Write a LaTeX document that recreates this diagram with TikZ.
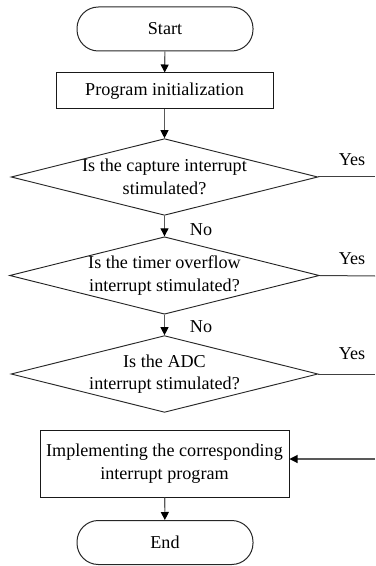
\documentclass[tikz,border=0pt]{standalone}
\usepackage{fontspec}
\setmainfont{Liberation Serif}
\usetikzlibrary{shapes.geometric,arrows.meta}
\begin{document}
\begin{tikzpicture}[x=0.75pt,y=-0.75pt,
  every node/.style={font=\fontsize{13.6pt}{17pt}\selectfont},
  term/.style={draw=black!85,line width=0.75pt,rectangle,rounded corners=16pt,minimum width=132pt,minimum height=33pt,inner sep=0pt},
  proc/.style={draw=black!90,line width=0.75pt,rectangle,inner sep=0pt,align=center},
  dec/.style={draw=black!85,line width=0.7pt,diamond,aspect=4,inner sep=0pt,align=center,minimum width=222.75pt},
  conn/.style={draw=black!65,line width=0.8pt,-{Triangle[width=6pt,length=6pt,color=black]}},
  plain/.style={draw=black!75,line width=0.75pt},
  lab/.style={inner sep=0pt}]
\useasboundingbox (0,0) rectangle (375,566);
\node[term] (start) at (165,29) {Start};
\node[proc,minimum width=162.75pt,minimum height=27pt] (init) at (164.5,91) {Program initialization};
\node[dec,minimum height=55.5pt] (d1) at (164.5,177) {Is the capture interrupt\\stimulated?};
\node[dec,minimum height=56.25pt] (d2) at (164.5,275.5) {Is the timer overflow\\interrupt stimulated?};
\node[dec,minimum height=54pt] (d3) at (164.5,374) {Is the ADC\\interrupt stimulated?};
\node[proc,minimum width=186.75pt,minimum height=50.25pt] (impl) at (164.5,463.5) {Implementing the corresponding\\interrupt program};
\node[term] (end) at (165,542.5) {End};
\coordinate (y1) at (375,177);
\coordinate (y2) at (375,276);
\coordinate (y3) at (375,374);
\coordinate (back) at (375,459);
\draw[conn] (start) -- (init);
\draw[conn] (init) -- (d1);
\draw[conn] (d1) -- (d2);
\draw[conn] (d2) -- (d3);
\draw[conn] (impl) -- (end);
\draw[plain] (d1.east) -- (y1);
\draw[plain] (d2.east) -- (y2);
\draw[plain] (d3.east) -- (y3);
\draw[conn] (back) -- (back -| impl.east);
\node[lab] (yes1) at (352,160) {Yes};
\node[lab] (yes2) at (352,259) {Yes};
\node[lab] (yes3) at (352,354) {Yes};
\node[lab] (no1) at (201,230) {No};
\node[lab] (no2) at (201,327) {No};
\end{tikzpicture}
\end{document}
